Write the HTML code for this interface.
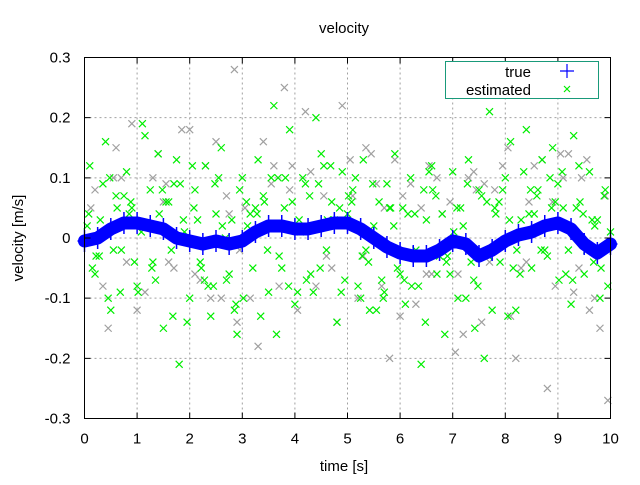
<!DOCTYPE html>
<html><head><meta charset="utf-8"><style>
body{margin:0;background:#fff}
svg text{font-family:"Liberation Sans",sans-serif;fill:#000}
</style></head><body>
<svg id="c" width="640" height="480" xmlns="http://www.w3.org/2000/svg">
<rect width="640" height="480" fill="#fff"/>
<g id="grid"></g>
<g id="grey"></g>
<g id="green"></g>
<g id="blue"></g>
<rect x="84.5" y="57.5" width="526" height="361" fill="none" stroke="#000"/>
<g id="ticks"></g>
<text x="344" y="33" font-size="15" text-anchor="middle">velocity</text>
<text x="344" y="471" font-size="15" text-anchor="middle">time [s]</text>
<text transform="translate(23,238) rotate(-90)" font-size="15" text-anchor="middle">velocity [m/s]</text>
<g>
<rect x="445.5" y="61.5" width="153" height="37" fill="#fff" stroke="#199a7a"/>
<text x="531" y="77" font-size="15" text-anchor="end">true</text>
<path d="M560 71h14M567 64v14" stroke="#0000ff" stroke-width="1.2"/>
<text x="531" y="95" font-size="15" text-anchor="end">estimated</text>
<path d="M564 86l6 6M570 86l-6 6" stroke="#00ee00" stroke-width="1.2"/>
</g>
</svg>
<script>
const xTicks=[0,1,2,3,4,5,6,7,8,9,10];
const yTicks=[-0.3,-0.2,-0.1,0,0.1,0.2,0.3];
const yTickLabels=["-0.3","-0.2","-0.1","0","0.1","0.2","0.3"];
const trueT=[0,0.25,0.5,0.75,1,1.25,1.5,1.75,2,2.25,2.5,2.75,3,3.25,3.5,3.75,4,4.25,4.5,4.75,5,5.25,5.5,5.75,6,6.25,6.5,6.75,7,7.25,7.5,7.75,8,8.25,8.5,8.75,9,9.25,9.5,9.75,10];
const trueV=[-0.005,0,0.015,0.025,0.025,0.02,0.015,0,-0.005,-0.01,-0.005,-0.01,-0.005,0.01,0.02,0.02,0.015,0.015,0.02,0.025,0.025,0.015,0,-0.015,-0.025,-0.03,-0.03,-0.02,-0.005,-0.01,-0.03,-0.02,-0.005,0.005,0.01,0.02,0.025,0.015,-0.01,-0.025,-0.01];
const estT=[0.1,0.2,0.3,0.4,0.5,0.6,0.7,0.8,0.9,1.0,1.1,1.2,1.3,1.4,1.5,1.6,1.7,1.8,1.9,2.0,2.1,2.2,2.3,2.4,2.5,2.6,2.7,2.8,2.9,3.0,3.1,3.2,3.3,3.4,3.5,3.6,3.7,3.8,3.9,4.0,4.1,4.2,4.3,4.4,4.5,4.6,4.7,4.8,4.9,5.0,5.1,5.2,5.3,5.4,5.5,5.6,5.7,5.8,5.9,6.0,6.1,6.2,6.3,6.4,6.5,6.6,6.7,6.8,6.9,7.0,7.1,7.2,7.3,7.4,7.5,7.6,7.7,7.8,7.9,8.0,8.1,8.2,8.3,8.4,8.5,8.6,8.7,8.8,8.9,9.0,9.1,9.2,9.3,9.4,9.5,9.6,9.7,9.8,9.9,10.0,
0.15,0.35,0.55,0.75,0.95,1.15,1.35,1.55,1.75,1.95,2.15,2.35,2.55,2.75,2.95,3.15,3.35,3.55,3.75,3.95,4.15,4.35,4.55,4.75,4.95,5.15,5.35,5.55,5.75,5.95,6.15,6.35,6.55,6.75,6.95,7.15,7.35,7.55,7.75,7.95,8.15,8.35,8.55,8.75,8.95,9.15,9.35,9.55,9.75,9.95,
0.05,0.45,0.85,1.25,1.65,2.05,2.45,2.85,3.25,3.65,4.05,4.45,4.85,5.25,5.65,6.05,6.45,6.85,7.25,7.65,8.05,8.45,8.85,9.25,9.65,
0.08,0.28,0.48,0.68,0.88,1.08,1.28,1.48,1.68,1.88,2.08,2.28,2.48,2.68,2.88,3.08,3.28,3.48,3.68,3.88,4.08,4.28,4.48,4.68,4.88,5.08,5.28,5.48,5.68,5.88,6.08,6.28,6.48,6.68,6.88,7.08,7.28,7.48,7.68,7.88,8.08,8.28,8.48,8.68,8.88,9.08,9.28,9.48,9.68,9.88,
0.22,0.62,1.02,1.42,1.82,2.22,2.62,3.02,3.42,3.82,4.22,4.62,5.02,5.42,5.82,6.22,6.62,7.02,7.42,7.82,8.22,8.62,9.02,9.42,9.82];
const estV=[0.12,-0.06,0.03,0.16,-0.12,0.07,-0.02,0.11,0.05,-0.08,0.19,0.02,-0.04,0.14,-0.15,0.06,0.09,-0.21,0.01,-0.1,0.08,-0.04,0.12,-0.13,0.04,0.15,-0.07,0.03,-0.16,0.1,0.02,-0.05,0.13,0.07,-0.09,0.22,-0.03,0.05,0.18,-0.11,0.01,0.09,-0.06,0.2,0.14,-0.02,0.06,-0.14,0.11,0.04,0.08,-0.08,0.13,-0.04,0.02,0.06,-0.09,0.05,0.14,-0.06,-0.11,0.1,-0.02,-0.21,0.03,0.12,-0.06,0.04,-0.03,0.11,-0.1,0.02,0.13,-0.07,0.08,-0.2,0.21,0.05,-0.04,0.1,0.16,-0.12,0.03,0.18,-0.05,0.07,0.13,-0.03,0.15,0.09,0.05,-0.02,0.17,0.12,-0.06,0.11,0.02,-0.1,0.08,0.01,
-0.05,0.09,-0.02,0.07,-0.04,0.17,-0.07,0.06,0.13,-0.14,0.03,-0.08,0.1,-0.06,0.08,0.04,-0.13,0.1,-0.05,0.06,0.1,-0.09,0.12,0.03,-0.07,0.1,-0.02,-0.12,0.09,-0.05,0.04,-0.08,0.11,-0.03,-0.06,0.05,-0.04,0.07,-0.12,0.08,-0.05,0.11,0.04,-0.02,0.06,-0.06,0.05,-0.02,0.03,-0.08,
0.02,-0.1,0.04,0.08,-0.02,0.12,-0.08,-0.12,0.05,-0.16,-0.09,0.09,0.05,-0.1,-0.07,0.05,0.08,-0.16,-0.1,0.06,-0.13,0.04,0.1,-0.11,0.03,
0.04,-0.03,0.1,-0.09,0.06,0.01,-0.05,0.08,-0.13,0.03,0.05,-0.07,0.09,0.0,-0.11,0.06,0.04,-0.02,0.1,-0.08,0.03,0.07,-0.05,0.12,-0.09,0.06,-0.03,0.09,-0.1,0.02,-0.07,0.04,-0.14,0.07,-0.04,0.05,0.09,-0.08,-0.03,0.06,0.03,-0.06,0.08,-0.02,0.05,0.11,-0.07,0.04,-0.04,0.07,
-0.03,0.05,-0.09,0.04,0.09,-0.05,0.02,-0.1,0.06,0.1,-0.07,0.03,0.07,-0.12,0.05,-0.08,0.08,0.01,-0.15,0.04,-0.02,0.08,-0.07,0.06,-0.05];
const measT=[0.2,0.45,0.7,0.9,1.15,1.4,1.6,1.85,2.1,2.3,2.6,2.85,3.05,3.3,3.55,3.8,4.05,4.3,4.55,4.8,5.05,5.3,5.55,5.8,6.05,6.3,6.55,6.8,7.05,7.3,7.55,7.8,8.05,8.3,8.55,8.8,9.05,9.3,9.55,9.8,
0.35,0.6,1.0,1.3,1.7,2.0,2.4,2.7,2.95,3.4,3.7,3.95,4.2,4.6,4.9,5.2,5.45,5.7,6.0,6.2,6.5,6.7,6.95,7.2,7.45,7.7,7.95,8.2,8.45,8.7,8.95,9.2,9.45,9.7,9.95,
0.55,1.5,2.5,2.9,3.6,4.4,5.1,5.9,6.6,7.4,8.1,8.9,9.4,9.9,
0.12,0.8,1.55,2.2,2.75,3.15,3.9,4.7,5.35,5.65,6.4,7.1,7.6,8.4,9.1,9.6];
const measV=[0.08,-0.15,0.1,0.19,-0.09,0.14,-0.04,0.18,-0.06,0.12,-0.1,0.28,0.05,-0.18,0.09,0.25,-0.12,0.11,0.07,-0.14,0.13,-0.03,0.09,-0.2,0.07,-0.11,0.12,0.04,-0.19,0.1,-0.14,0.08,0.15,-0.05,0.12,-0.25,0.14,-0.09,0.13,-0.15,
-0.08,0.15,-0.12,0.1,-0.05,0.18,-0.1,0.07,-0.02,0.16,-0.08,0.12,0.21,-0.03,0.22,-0.1,0.14,0.05,-0.13,0.09,-0.06,0.1,0.06,-0.16,0.08,-0.04,0.12,-0.2,0.06,0.13,-0.08,0.14,0.1,-0.1,-0.27,
0.1,0.06,0.16,-0.14,0.12,-0.08,0.07,0.13,-0.06,0.11,-0.13,0.06,-0.05,0.07,
0.05,-0.04,0.09,-0.07,0.04,-0.1,0.08,-0.05,0.15,-0.08,0.05,-0.06,0.09,-0.04,0.1,-0.12];

const X0=84.5,X1=610.5,Y0=418.5,Y1=57.5;
const sx=t=>X0+(t-0)/(10-0)*(X1-X0);
const sy=v=>Y0-(v+0.3)/0.6*(Y0-Y1);
const NS="http://www.w3.org/2000/svg";
function mk(tag,attrs,parent){const e=document.createElementNS(NS,tag);for(const k in attrs)e.setAttribute(k,attrs[k]);parent.appendChild(e);return e;}
const grid=document.getElementById('grid'),ticks=document.getElementById('ticks');
xTicks.forEach(t=>{
  const x=sx(t);
  if(t>0&&t<10){const l=mk('line',{x1:x,y1:Y1,x2:x,y2:Y0,stroke:'#a0a0a0','stroke-dasharray':'2,3'},grid);
  
  }
  const a=mk('path',{d:`M${x} ${Y0}v-6M${x} ${Y1}v6`,stroke:'#000'},ticks);
  
  
  const tx=mk('text',{x:x,y:Y0+25,'font-size':15,'text-anchor':'middle'},ticks);
  tx.textContent=String(t);
  
  
});
yTicks.forEach((v,i)=>{
  const y=sy(v);
  if(i>0&&i<yTicks.length-1){const l=mk('line',{x1:X0,y1:y,x2:X1,y2:y,stroke:'#a0a0a0','stroke-dasharray':'2,3'},grid);
  
  }
  const a=mk('path',{d:`M${X0} ${y}h6M${X1} ${y}h-6`,stroke:'#000'},ticks);
  
  
  const tx=mk('text',{x:X0-14,y:y+5,'font-size':15,'text-anchor':'end'},ticks);
  tx.textContent=yTickLabels[i];
  
  
});
function cross(g,t,v,col,name){
  const x=sx(t),y=sy(v);
  const p=mk('path',{d:`M${x-3.5} ${y-3.5}l7 7M${x+3.5} ${y-3.5}l-7 7`,stroke:col,'stroke-width':1.2},g);
  
  
}
const grey=document.getElementById('grey'),green=document.getElementById('green'),blue=document.getElementById('blue');
measT.forEach((t,i)=>cross(grey,t,measV[i],'#a0a0a0','measurement-point'));
estT.forEach((t,i)=>cross(green,t,estV[i],'#00ee00','estimated-point'));
const pts=trueT.map((t,i)=>sx(t)+','+sy(trueV[i])).join(' ');
const pl=mk('polyline',{points:pts,fill:'none',stroke:'#0000ff','stroke-width':13,'stroke-linejoin':'round','stroke-linecap':'round'},blue);


trueT.forEach((t,i)=>{
  const x=sx(t),y=sy(trueV[i]);
  const p=mk('path',{d:`M${x-7} ${y}h14M${x} ${y-11}v22`,stroke:'#0000ff','stroke-width':1.5},blue);
  
  
});
</script>
</body></html>
